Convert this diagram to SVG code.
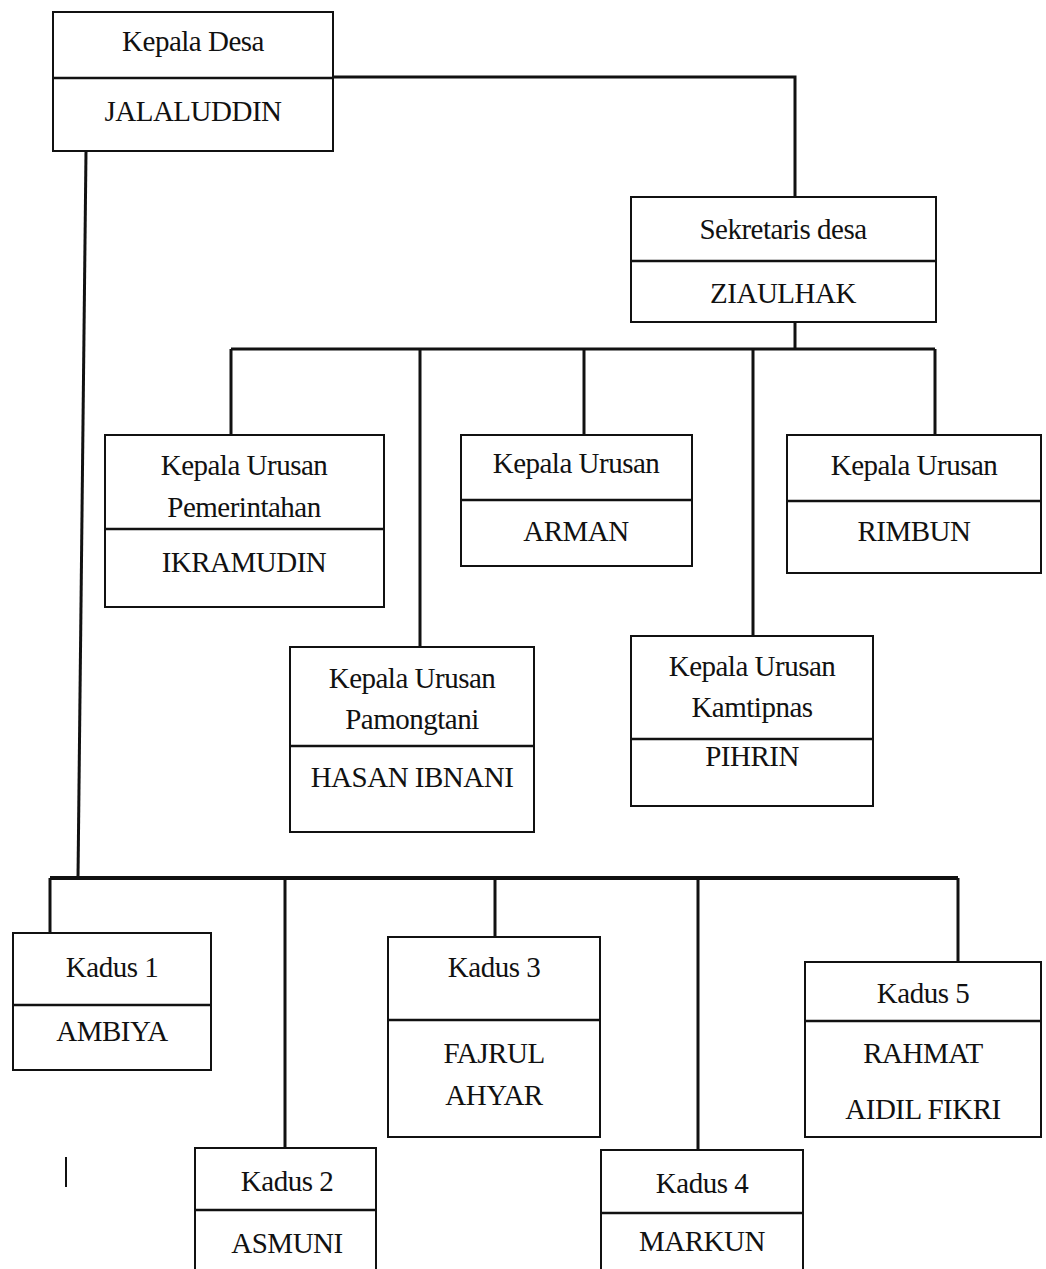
<svg xmlns="http://www.w3.org/2000/svg" width="1046" height="1269" viewBox="0 0 1046 1269">
<style>
.box{fill:#fff;stroke:#111;stroke-width:2}
.div{stroke:#111;stroke-width:2.5}
.con{stroke:#111;stroke-width:3;fill:none}
text{font-family:"Liberation Serif","Times New Roman",serif;font-size:29px;letter-spacing:-0.5px;fill:#111;text-anchor:middle}
</style>
<rect width="1046" height="1269" fill="#fff"/>
<g id="connectors">
<polyline class="con" points="333,77 795,77 795,197"/>
<line class="con" x1="86" y1="151" x2="78" y2="878"/>
<line class="con" x1="795" y1="322" x2="795" y2="349"/>
<line class="con" x1="231" y1="349" x2="935" y2="349"/>
<line class="con" x1="231" y1="349" x2="231" y2="435"/>
<line class="con" x1="420" y1="349" x2="420" y2="647"/>
<line class="con" x1="584" y1="349" x2="584" y2="435"/>
<line class="con" x1="753" y1="349" x2="753" y2="636"/>
<line class="con" x1="935" y1="349" x2="935" y2="435"/>
<line class="con" x1="50" y1="878" x2="958" y2="878" style="stroke-width:4"/>
<line class="con" x1="50" y1="878" x2="50" y2="933"/>
<line class="con" x1="285" y1="878" x2="285" y2="1148"/>
<line class="con" x1="495" y1="878" x2="495" y2="937"/>
<line class="con" x1="698" y1="878" x2="698" y2="1150"/>
<line class="con" x1="958" y1="878" x2="958" y2="962"/>
<line x1="66" y1="1157" x2="66" y2="1187" stroke="#111" stroke-width="2"/>
</g>
<g id="kepala-desa">
<rect class="box" x="53" y="12" width="280" height="139"/>
<line class="div" x1="53" y1="78" x2="333" y2="78"/>
<text x="193" y="51">Kepala Desa</text>
<text x="193" y="121">JALALUDDIN</text>
</g>
<g id="sekretaris">
<rect class="box" x="631" y="197" width="305" height="125"/>
<line class="div" x1="631" y1="261" x2="936" y2="261"/>
<text x="783" y="239">Sekretaris desa</text>
<text x="783" y="303">ZIAULHAK</text>
</g>
<g id="kaur-pemerintahan">
<rect class="box" x="105" y="435" width="279" height="172"/>
<line class="div" x1="105" y1="529" x2="384" y2="529"/>
<text x="244" y="475">Kepala Urusan</text>
<text x="244" y="517">Pemerintahan</text>
<text x="244" y="572">IKRAMUDIN</text>
</g>
<g id="kaur-arman">
<rect class="box" x="461" y="435" width="231" height="131"/>
<line class="div" x1="461" y1="500" x2="692" y2="500"/>
<text x="576" y="473">Kepala Urusan</text>
<text x="576" y="541">ARMAN</text>
</g>
<g id="kaur-rimbun">
<rect class="box" x="787" y="435" width="254" height="138"/>
<line class="div" x1="787" y1="501" x2="1041" y2="501"/>
<text x="914" y="475">Kepala Urusan</text>
<text x="914" y="541">RIMBUN</text>
</g>
<g id="kaur-pamongtani">
<rect class="box" x="290" y="647" width="244" height="185"/>
<line class="div" x1="290" y1="746" x2="534" y2="746"/>
<text x="412" y="688">Kepala Urusan</text>
<text x="412" y="729">Pamongtani</text>
<text x="412" y="787">HASAN IBNANI</text>
</g>
<g id="kaur-kamtipnas">
<rect class="box" x="631" y="636" width="242" height="170"/>
<line class="div" x1="631" y1="739" x2="873" y2="739"/>
<text x="752" y="676">Kepala Urusan</text>
<text x="752" y="717">Kamtipnas</text>
<text x="752" y="766">PIHRIN</text>
</g>
<g id="kadus-1">
<rect class="box" x="13" y="933" width="198" height="137"/>
<line class="div" x1="13" y1="1005" x2="211" y2="1005"/>
<text x="112" y="977">Kadus 1</text>
<text x="112" y="1041">AMBIYA</text>
</g>
<g id="kadus-2">
<rect class="box" x="195" y="1148" width="181" height="130"/>
<line class="div" x1="195" y1="1210" x2="376" y2="1210"/>
<text x="287" y="1191">Kadus 2</text>
<text x="287" y="1253">ASMUNI</text>
</g>
<g id="kadus-3">
<rect class="box" x="388" y="937" width="212" height="200"/>
<line class="div" x1="388" y1="1020" x2="600" y2="1020"/>
<text x="494" y="977">Kadus 3</text>
<text x="494" y="1063">FAJRUL</text>
<text x="494" y="1105">AHYAR</text>
</g>
<g id="kadus-4">
<rect class="box" x="601" y="1150" width="202" height="130"/>
<line class="div" x1="601" y1="1213" x2="803" y2="1213"/>
<text x="702" y="1193">Kadus 4</text>
<text x="702" y="1251">MARKUN</text>
</g>
<g id="kadus-5">
<rect class="box" x="805" y="962" width="236" height="175"/>
<line class="div" x1="805" y1="1021" x2="1041" y2="1021"/>
<text x="923" y="1003">Kadus 5</text>
<text x="923" y="1063">RAHMAT</text>
<text x="923" y="1119">AIDIL FIKRI</text>
</g>
</svg>
